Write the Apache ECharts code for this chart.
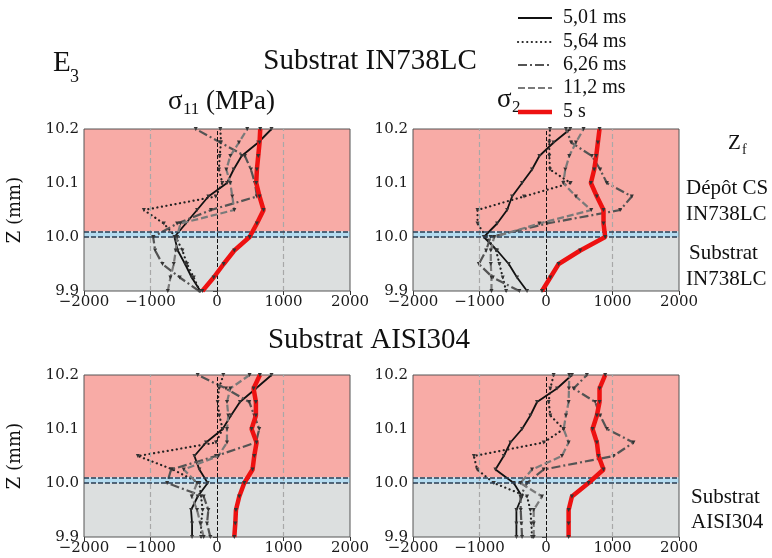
<!DOCTYPE html>
<html><head><meta charset="utf-8">
<script src="https://cdn.jsdelivr.net/npm/echarts@6/dist/echarts.min.js"></script>
<style>html,body{margin:0;padding:0;background:#fff}#c{width:772px;height:558px}</style>
</head><body><div id="c"></div>
<script>
// ---- data ----
const zLevels = [9.9, 9.925, 9.95, 9.975, 10.0, 10.025, 10.05, 10.075, 10.1, 10.125, 10.15, 10.175, 10.2];
const xTicks = [-2000, -1000, 0, 1000, 2000];
const zTicks = [9.9, 10.0, 10.1, 10.2];
const seriesNames = ['5,01 ms', '5,64 ms', '6,26 ms', '11,2 ms', '5 s'];
const interfaceZ = [10.0, 10.01];
const refLinesX = [-1000, 0, 1000];

// Substrat IN738LC, sigma11 (MPa)
const in738_s11_501ms = [-250, -380, -480, -590, -640, -470, -300, -130, 150, 250, 370, 620, 820];
const in738_s11_564ms = [-260, -350, -450, -520, -620, -800, -1100, -20, 80, 30, 40, 60, 50];
const in738_s11_626ms = [-270, -560, -820, -930, -960, -600, -90, 600, 570, 510, 420, 50, -320];
const in738_s11_112ms = [-740, -700, -650, -620, -600, -550, 260, 230, 200, 140, 200, 330, 455];
const in738_s11_5s    = [-220, -50, 100, 260, 490, 600, 700, 640, 590, 600, 620, 640, 650];
// Substrat IN738LC, sigma22 (MPa)
const in738_s22_501ms = [-285, -435, -560, -735, -935, -735, -585, -510, -360, -210, -100, 115, 365];
const in738_s22_564ms = [-600, -650, -700, -750, -900, -1030, -1030, -330, 370, 60, 50, 50, 60];
const in738_s22_626ms = [-400, -800, -1010, -900, -835, 15, 1115, 1290, 915, 815, 690, 380, 300];
const in738_s22_112ms = [-820, -820, -830, -830, -780, -100, 680, 450, 260, 290, 350, 450, 565];
const in738_s22_5s    = [-60, 65, 190, 515, 890, 865, 865, 765, 675, 725, 755, 780, 805];
// Substrat AISI304, sigma11 (MPa)
const aisi_s11_501ms = [-375, -375, -390, -290, -140, -265, -340, -165, 85, 210, 345, 585, 820];
const aisi_s11_564ms = [-240, -240, -215, -240, -265, -665, -1190, -15, 85, 35, 10, 30, 95];
const aisi_s11_626ms = [-100, -150, -130, -200, -750, -690, -15, 585, 635, 560, 485, 135, -290];
const aisi_s11_112ms = [-200, -250, -300, -380, -300, -500, 20, 150, 150, 170, 150, 200, 490];
const aisi_s11_5s    = [260, 275, 285, 335, 410, 535, 560, 595, 520, 585, 585, 550, 645];
// Substrat AISI304, sigma22 (MPa)
const aisi_s22_501ms = [-445, -445, -445, -360, -485, -760, -635, -535, -360, -235, -135, 165, 390];
const aisi_s22_564ms = [-210, -220, -235, -285, -785, -1035, -1085, -35, 265, 65, 40, 65, 115];
const aisi_s22_626ms = [-360, -370, -380, -385, -285, -35, 1015, 1315, 915, 815, 740, 415, 615];
const aisi_s22_112ms = [-185, -185, -185, -60, -385, -210, 240, 340, 265, 300, 340, 345, 350];
const aisi_s22_5s    = [340, 340, 340, 390, 640, 865, 790, 765, 700, 765, 805, 805, 890];

// ---- layout / styles ----
const panels = [
  { left: 84,  top: 129, data: [in738_s11_501ms, in738_s11_564ms, in738_s11_626ms, in738_s11_112ms, in738_s11_5s] },
  { left: 413, top: 129, data: [in738_s22_501ms, in738_s22_564ms, in738_s22_626ms, in738_s22_112ms, in738_s22_5s] },
  { left: 84,  top: 375, data: [aisi_s11_501ms, aisi_s11_564ms, aisi_s11_626ms, aisi_s11_112ms, aisi_s11_5s] },
  { left: 413, top: 375, data: [aisi_s22_501ms, aisi_s22_564ms, aisi_s22_626ms, aisi_s22_112ms, aisi_s22_5s] }
];
const styles = [
  { color: '#111111', width: 1.8, type: 'solid' },
  { color: '#222222', width: 2.2, type: [0.1, 4.5], cap: 'round' },
  { color: '#545454', width: 2.2, type: [9, 3, 2, 3] },
  { color: '#7a7a7a', width: 2.2, type: [7, 3] },
  { color: '#ee1111', width: 4.5, type: 'solid' }
];
const PW = 266, PH = 162;
const tickFont = 'DejaVu Serif';
const serif = 'Liberation Serif';

const grids = [], xAxes = [], yAxes = [], series = [];
panels.forEach((p, i) => {
  grids.push({ left: p.left, top: p.top, width: PW, height: PH, show: true, z: 5,
    backgroundColor: 'transparent', borderColor: '#555', borderWidth: 1 });
  xAxes.push({ type: 'value', gridIndex: i, min: xTicks[0], max: xTicks[xTicks.length - 1], interval: 1000,
    axisLine: { show: false }, splitLine: { show: false },
    axisTick: { show: true, length: 4, lineStyle: { color: '#333' } },
    axisLabel: { fontFamily: tickFont, fontSize: 15, color: '#1a1a1a', margin: 4,
      formatter: v => (v < 0 ? '\u2212' + (-v) : String(v)) } });
  yAxes.push({ type: 'value', gridIndex: i, min: zTicks[0], max: zTicks[zTicks.length - 1], interval: 0.1,
    axisLine: { show: false }, splitLine: { show: false },
    axisTick: { show: true, length: 4, lineStyle: { color: '#333' } },
    axisLabel: { fontFamily: tickFont, fontSize: 15, color: '#1a1a1a', margin: 5,
      formatter: v => v.toFixed(1) } });
  // background zones and reference lines
  const dl = { color: '#2a3d52', type: [5, 2], width: 1.6 };
  series.push({ type: 'line', xAxisIndex: i, yAxisIndex: i, data: [], silent: true, z: 1,
    markArea: { silent: true, data: [
      [{ coord: [xTicks[0], interfaceZ[1]], itemStyle: { color: '#f8aba6' } }, { coord: [xTicks[4], zTicks[3]] }],
      [{ coord: [xTicks[0], interfaceZ[0]], itemStyle: { color: '#b5dcf0' } }, { coord: [xTicks[4], interfaceZ[1]] }],
      [{ coord: [xTicks[0], zTicks[0]], itemStyle: { color: '#dcdfdf' } }, { coord: [xTicks[4], interfaceZ[0]] }]
    ] },
    markLine: { silent: true, symbol: 'none', label: { show: false }, animation: false, data: [
      { xAxis: refLinesX[0], lineStyle: { color: '#a8a8a8', type: [5, 3], width: 1.2 } },
      { xAxis: refLinesX[2], lineStyle: { color: '#a8a8a8', type: [5, 3], width: 1.2 } },
      { xAxis: refLinesX[1], lineStyle: { color: '#111', type: [4, 2], width: 1 } },
      { yAxis: interfaceZ[0], lineStyle: dl },
      { yAxis: interfaceZ[1], lineStyle: dl }
    ] } });
  p.data.forEach((vals, k) => {
    const st = styles[k];
    series.push({ type: 'line', name: seriesNames[k], xAxisIndex: i, yAxisIndex: i, z: 2 + k,
      data: vals.map((v, j) => [v, zLevels[j]]),
      showSymbol: true, symbol: 'triangle', symbolRotate: 180, symbolSize: 4,
      itemStyle: { color: '#333' },
      lineStyle: { color: st.color, width: st.width, type: st.type, cap: st.cap || 'butt' },
      silent: true, animation: false });
  });
});

// ---- texts ----
function txt(x, y, text, font, align) {
  return { type: 'text', x: x, y: y, z: 20,
    style: { text: text, font: font, fill: '#111', align: align || 'left', verticalAlign: 'middle' } };
}
const graphics = [
  txt(53, 63, 'E', '29px ' + serif),
  txt(70, 77, '3', '18px ' + serif),
  txt(370, 61, 'Substrat IN738LC', '29px ' + serif, 'center'),
  txt(369, 340, 'Substrat AISI304', '29px ' + serif, 'center'),
  txt(168, 102, '\u03c3', '27px ' + serif),
  txt(183, 110, '11', '17px ' + serif),
  txt(206, 102, '(MPa)', '27px ' + serif),
  txt(497, 100, '\u03c3', '27px ' + serif),
  txt(512, 108, '2', '17px ' + serif),
  txt(728, 143, 'Z', '21px ' + serif),
  txt(742, 150, 'f', '14px ' + serif),
  txt(686, 188, 'Dépôt CS', '21px ' + serif),
  txt(686, 214, 'IN738LC', '21px ' + serif),
  txt(689, 253, 'Substrat', '21px ' + serif),
  txt(686, 279, 'IN738LC', '21px ' + serif),
  txt(691, 497, 'Substrat', '21px ' + serif),
  txt(691, 522, 'AISI304', '21px ' + serif),
  { type: 'text', x: 15, y: 210, rotation: Math.PI / 2, z: 20,
    style: { text: 'Z (mm)', font: '18px ' + tickFont, fill: '#111', align: 'center', verticalAlign: 'middle' } },
  { type: 'text', x: 15, y: 456, rotation: Math.PI / 2, z: 20,
    style: { text: 'Z (mm)', font: '18px ' + tickFont, fill: '#111', align: 'center', verticalAlign: 'middle' } }
];
const legendY = [18, 42, 65, 88, 112];
seriesNames.forEach((n, k) => {
  const st = styles[k];
  graphics.push({ type: 'line', z: 20, shape: { x1: 518, y1: legendY[k], x2: 552, y2: legendY[k] },
    style: { stroke: st.color, lineWidth: st.width, lineDash: Array.isArray(st.type) ? st.type : null, lineCap: st.cap || 'butt' } });
  graphics.push(txt(563, legendY[k], n, '20px ' + serif));
});

const chart = echarts.init(document.getElementById('c'), null, { renderer: 'canvas' });
chart.setOption({
  animation: false,
  backgroundColor: '#fff',
  grid: grids, xAxis: xAxes, yAxis: yAxes, series: series,
  graphic: graphics
});
</script></body></html>
